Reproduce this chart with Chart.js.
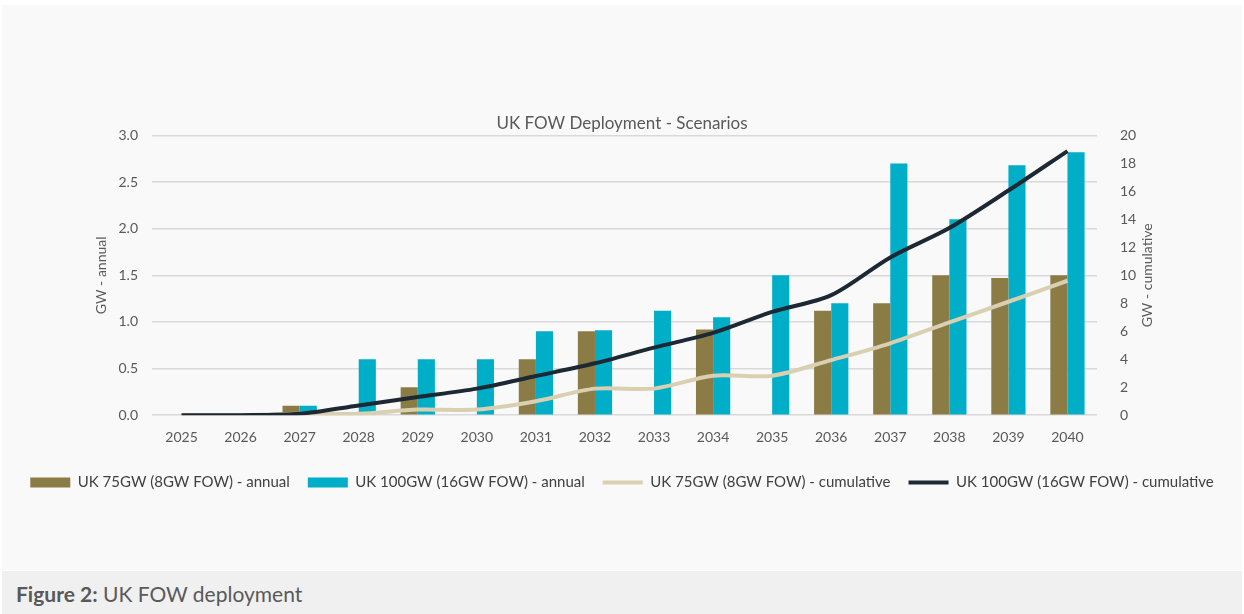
<!DOCTYPE html>
<html>
<head>
<meta charset="utf-8">
<script src="https://cdn.jsdelivr.net/npm/chart.js@4"></script>
<style>
  html, body { margin: 0; padding: 0; background: #fff; }
  body { width: 1244px; height: 614px; position: relative; overflow: hidden; font-family: Lato, sans-serif; }
  #panel { position: absolute; left: 2px; top: 5px; width: 1240px; height: 565px; background: #f9f9f9; }
  #caption { position: absolute; left: 2px; top: 571px; width: 1240px; height: 43px; background: #f0f0f0;
             color: #595959; font-size: 21px; line-height: 45px; padding-left: 14px; box-sizing: border-box; }
  #caption b { font-weight: bold; }
</style>
</head>
<body>
<div id="panel"><canvas id="fowChart" width="1240" height="565"></canvas></div>
<div id="caption"><b>Figure 2:</b> UK FOW deployment</div>
<script>
// Chart data
const years = ['2025', '2026', '2027', '2028', '2029', '2030', '2031', '2032',
               '2033', '2034', '2035', '2036', '2037', '2038', '2039', '2040'];
const annual75 = [0, 0, 0.1, 0, 0.3, 0, 0.6, 0.9, 0, 0.92, 0, 1.12, 1.2, 1.5, 1.47, 1.5];
const annual100 = [0, 0, 0.1, 0.6, 0.6, 0.6, 0.9, 0.91, 1.12, 1.05, 1.5, 1.2, 2.7, 2.1, 2.68, 2.82];
const cumulative75 = [0, 0, 0.1, 0.1, 0.4, 0.4, 1.0, 1.9, 1.9, 2.82, 2.82, 3.94, 5.14, 6.64, 8.11, 9.61];
const cumulative100 = [0, 0, 0.1, 0.7, 1.3, 1.9, 2.8, 3.71, 4.83, 5.88, 7.38, 8.58, 11.28, 13.38, 16.06, 18.88];
const leftTicks = [0, 0.5, 1.0, 1.5, 2.0, 2.5, 3.0];
const rightTicks = [0, 2, 4, 6, 8, 10, 12, 14, 16, 18, 20];

const textColor = '#595959';
const font = { family: 'Lato', size: 14 };

// right axis title reads bottom-to-top like the left one
const rightTitle = {
    id: 'rightTitle',
    afterDraw(chart) {
        const c = chart.ctx;
        const area = chart.chartArea;
        c.save();
        c.translate(1145, (area.top + area.bottom) / 2);
        c.rotate(-Math.PI / 2);
        c.fillStyle = textColor;
        c.font = '14px Lato';
        c.textAlign = 'center';
        c.textBaseline = 'middle';
        c.fillText('GW - cumulative', 0, 0);
        c.restore();
    }
};

const ctx = document.getElementById('fowChart').getContext('2d');
const fowChart = new Chart(ctx, {
    type: 'bar',
    data: {
        labels: years,
        datasets: [{
            label: 'UK 75GW (8GW FOW) - annual',
            data: annual75,
            backgroundColor: '#8b7c46',
            yAxisID: 'y',
            order: 2,
            barPercentage: 1,
            categoryPercentage: 0.58
        }, {
            label: 'UK 100GW (16GW FOW) - annual',
            data: annual100,
            backgroundColor: '#00aec7',
            yAxisID: 'y',
            order: 2,
            barPercentage: 1,
            categoryPercentage: 0.58
        }, {
            type: 'line',
            label: 'UK 75GW (8GW FOW) - cumulative',
            data: cumulative75,
            borderColor: '#d9cfb1',
            backgroundColor: '#d9cfb1',
            borderWidth: 4,
            pointRadius: 0,
            tension: 0.3,
            yAxisID: 'y1',
            order: 1
        }, {
            type: 'line',
            label: 'UK 100GW (16GW FOW) - cumulative',
            data: cumulative100,
            borderColor: '#1c2833',
            backgroundColor: '#1c2833',
            borderWidth: 4,
            pointRadius: 0,
            tension: 0.3,
            yAxisID: 'y1',
            order: 0
        }]
    },
    plugins: [rightTitle],
    options: {
        responsive: false,
        animation: false,
        layout: { padding: { top: 108, left: 0, right: 0, bottom: 70 } },
        plugins: {
            title: {
                display: true,
                text: 'UK FOW Deployment - Scenarios',
                color: textColor,
                font: { family: 'Lato', size: 17, weight: 'normal' },
                padding: { top: 0, bottom: 2 }
            },
            legend: {
                position: 'bottom',
                labels: {
                    color: '#404040',
                    font: { family: 'Lato', size: 15 },
                    usePointStyle: true,
                    pointStyleWidth: 40,
                    boxHeight: 10,
                    padding: 18,
                    generateLabels: (chart) => chart.data.datasets.map((ds, i) => ({
                        text: ds.label,
                        fillStyle: ds.backgroundColor,
                        strokeStyle: ds.type === 'line' ? ds.borderColor : ds.backgroundColor,
                        lineWidth: ds.type === 'line' ? 4 : 0,
                        pointStyle: ds.type === 'line' ? 'line' : 'rect',
                        fontColor: '#404040',
                        datasetIndex: i,
                        hidden: false
                    }))
                }
            },
            tooltip: { enabled: false }
        },
        scales: {
            x: {
                grid: { display: false },
                border: { display: false },
                ticks: { color: textColor, font: font, maxRotation: 0, padding: 6 },
                afterFit: (axis) => { axis.height += 5; }
            },
            y: {
                position: 'left',
                min: 0,
                max: 3,
                afterBuildTicks: (axis) => { axis.ticks = leftTicks.map(v => ({ value: v })); },
                ticks: { color: textColor, font: font, padding: 14, callback: (v) => v.toFixed(1) },
                grid: { color: '#d9d9d9', lineWidth: 1.5, drawTicks: false },
                border: { display: false },
                title: { display: true, text: 'GW - annual', color: textColor, font: font, padding: { top: 91, bottom: 0 } },
                afterFit: (axis) => { axis.width = 150; }
            },
            y1: {
                position: 'right',
                min: 0,
                max: 20,
                afterBuildTicks: (axis) => { axis.ticks = rightTicks.map(v => ({ value: v })); },
                ticks: { color: textColor, font: font, padding: 15 },
                grid: { display: false },
                border: { display: false },
                afterFit: (axis) => { axis.width = 145; }
            }
        }
    }
});
</script>
</body>
</html>
